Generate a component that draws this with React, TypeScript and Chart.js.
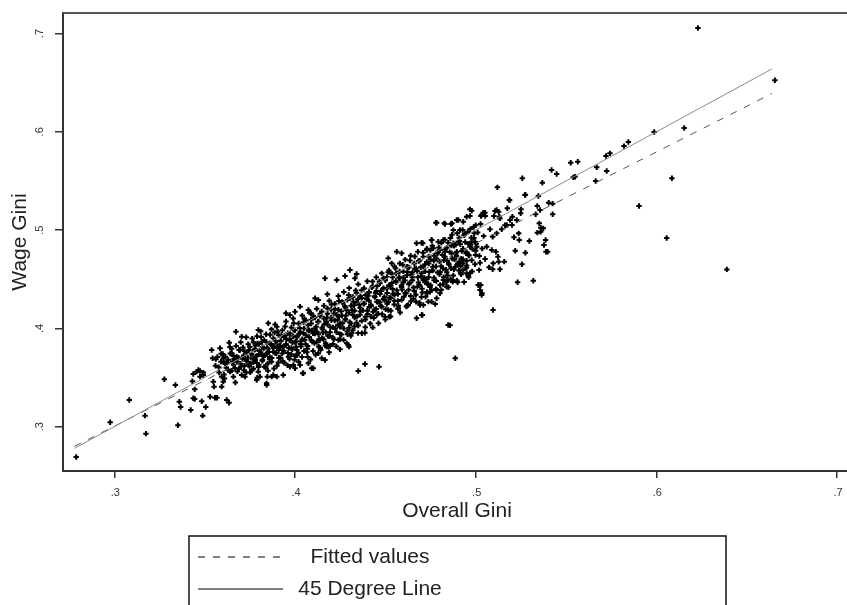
import React, { useEffect, useRef } from "react";
import { Chart, registerables } from "chart.js";
Chart.register(...registerables);

// Axis ticks
const xTicks = [0.3, 0.4, 0.5, 0.6, 0.7];
const yTicks = [0.3, 0.4, 0.5, 0.6, 0.7];
const xTickLabels = [".3", ".4", ".5", ".6", ".7"];
const yTickLabels = [".3", ".4", ".5", ".6", ".7"];

// Lines: [overall, wage]
const fittedLine = [[0.278, 0.280], [0.664, 0.639]];
const diagonalLine = [[0.278, 0.278], [0.664, 0.664]];

// Scatter points [overall gini, wage gini]
const lowTail = [
  [0.2789,0.2692],[0.2977,0.3045],[0.3083,0.3272],[0.317,0.3112],[0.3175,0.2929],[0.3277,0.3482],[0.3338,0.3424],[0.3352,0.3014],
  [0.336,0.3254],[0.3367,0.32],[0.3423,0.317],[0.3445,0.3282],[0.3432,0.3462],[0.3445,0.338],[0.3489,0.3112],[0.3484,0.3258],
  [0.3506,0.32],[0.353,0.3305],[0.3568,0.3295],[0.3622,0.3272],[0.3635,0.3244],[0.3456,0.356],[0.3474,0.3567],[0.3493,0.355],
  [0.3437,0.3536],[0.3539,0.378],[0.3544,0.3696],[0.3465,0.3577],[0.3493,0.3526],[0.3474,0.3509],[0.3548,0.3458],[0.3552,0.3407],
  [0.3594,0.3509],[0.3603,0.3458],[0.3594,0.3407],[0.3437,0.3289],[0.3557,0.3295],[0.3585,0.3798],[0.3603,0.3696],[0.3613,0.3645],
  [0.365,0.3747],[0.3677,0.3712],[0.3696,0.378],[0.364,0.356],[0.3659,0.3509],[0.3705,0.3526],[0.3723,0.3509],[0.3742,0.3628],
  [0.376,0.3577],[0.3797,0.356],[0.3791,0.3498],[0.3806,0.3509],[0.3843,0.3424],[0.3847,0.3509],[0.3871,0.3509],[0.3899,0.3509],
  [0.3636,0.3855],[0.3673,0.3966],[0.3705,0.3916],[0.3797,0.3984],[0.3852,0.4052],[0.3899,0.4017],
];

const core = [
  [0.356,0.362],[0.357,0.371],[0.358,0.355],[0.359,0.366],[0.360,0.374],[0.361,0.349],[0.362,0.360],[0.363,0.368],[0.364,0.381],[0.365,0.357],
  [0.366,0.363],[0.366,0.372],[0.367,0.345],[0.368,0.366],[0.369,0.378],[0.369,0.359],[0.370,0.386],[0.371,0.369],[0.372,0.362],[0.372,0.377],
  [0.373,0.391],[0.373,0.355],[0.374,0.370],[0.375,0.381],[0.375,0.364],[0.376,0.374],[0.377,0.386],[0.377,0.359],[0.378,0.368],[0.378,0.379],
  [0.379,0.392],[0.379,0.372],[0.380,0.363],[0.380,0.384],[0.381,0.376],[0.381,0.397],[0.382,0.368],[0.382,0.381],[0.383,0.388],[0.383,0.361],
  [0.384,0.374],[0.384,0.394],[0.385,0.379],[0.385,0.357],
  [0.386,0.385],[0.386,0.371],[0.387,0.399],[0.387,0.366],[0.388,0.380],[0.388,0.390],[0.389,0.375],[0.389,0.404],[0.390,0.384],[0.390,0.362],
  [0.391,0.393],[0.391,0.378],[0.392,0.387],[0.392,0.370],[0.393,0.398],[0.393,0.381],[0.394,0.365],[0.394,0.391],[0.395,0.384],[0.395,0.407],
  [0.396,0.375],[0.396,0.395],[0.397,0.388],[0.397,0.369],[0.398,0.401],[0.398,0.380],[0.399,0.392],[0.399,0.410],[0.400,0.386],[0.400,0.372],[0.400,0.398],
  [0.401,0.391],[0.401,0.378],[0.402,0.405],[0.402,0.366],[0.403,0.396],[0.403,0.384],[0.404,0.413],[0.404,0.389],[0.405,0.377],[0.405,0.400],
  [0.406,0.393],[0.406,0.408],[0.407,0.382],[0.407,0.371],[0.408,0.398],[0.408,0.416],[0.409,0.388],[0.409,0.405],[0.410,0.395],[0.410,0.377],
  [0.411,0.411],[0.411,0.400],[0.412,0.386],[0.412,0.420],[0.413,0.394],[0.413,0.407],[0.414,0.380],[0.414,0.415],[0.415,0.401],[0.415,0.390],
  [0.416,0.423],[0.416,0.410],[0.417,0.396],[0.417,0.385],[0.418,0.415],[0.418,0.404],[0.419,0.428],[0.419,0.392],[0.420,0.411],[0.420,0.419],
  [0.421,0.401],[0.421,0.384],[0.422,0.425],[0.422,0.408],[0.423,0.414],[0.423,0.396],[0.424,0.433],[0.424,0.419],[0.425,0.405],[0.425,0.389],
  [0.426,0.427],[0.426,0.413],[0.427,0.400],[0.427,0.437],[0.428,0.421],[0.428,0.409],[0.429,0.394],[0.429,0.429],[0.430,0.416],[0.430,0.441],
  [0.431,0.405],[0.431,0.423],[0.432,0.432],[0.432,0.398],[0.433,0.418],[0.433,0.411],[0.434,0.436],[0.434,0.426],[0.435,0.403],[0.435,0.445],
  [0.436,0.421],[0.436,0.414],[0.437,0.431],[0.437,0.395],[0.438,0.440],[0.438,0.425],[0.439,0.409],[0.439,0.434],[0.440,0.418],[0.440,0.448],
  [0.441,0.428],[0.441,0.437],[0.442,0.412],[0.442,0.424],[0.443,0.443],[0.443,0.401],[0.444,0.433],[0.444,0.419],[0.445,0.452],[0.445,0.438],
  [0.446,0.427],[0.446,0.415],[0.447,0.446],[0.447,0.435],[0.448,0.422],[0.448,0.456],[0.449,0.441],[0.449,0.430],[0.450,0.409],[0.450,0.449],
  [0.451,0.436],[0.451,0.425],[0.452,0.459],[0.452,0.444],[0.453,0.431],[0.453,0.418],[0.454,0.452],[0.454,0.440],[0.455,0.463],[0.455,0.428],
  [0.456,0.447],[0.456,0.456],[0.457,0.435],[0.457,0.420],[0.458,0.466],[0.458,0.451],[0.459,0.442],[0.459,0.429],[0.460,0.458],[0.460,0.447],
  [0.461,0.436],[0.461,0.470],[0.462,0.454],[0.462,0.423],[0.463,0.462],[0.463,0.445],[0.464,0.433],[0.464,0.474],[0.465,0.457],[0.465,0.449],
  [0.466,0.466],[0.466,0.438],[0.467,0.427],[0.467,0.461],[0.468,0.452],[0.468,0.478],[0.469,0.444],[0.469,0.469],[0.470,0.456],[0.470,0.432],
  [0.471,0.463],[0.471,0.473],[0.472,0.447],[0.472,0.458],[0.473,0.481],[0.473,0.437],[0.474,0.466],[0.474,0.452],[0.475,0.470],[0.475,0.444],
  [0.476,0.459],[0.476,0.484],[0.477,0.449],[0.477,0.474],[0.478,0.463],[0.478,0.440],[0.479,0.478],[0.480,0.455],[0.480,0.468],[0.481,0.487],
  [0.482,0.461],[0.482,0.445],[0.483,0.473],[0.484,0.457],[0.484,0.482],[0.485,0.466],[0.486,0.450],[0.486,0.492],[0.487,0.471],[0.488,0.460],
  [0.488,0.484],[0.489,0.476],[0.490,0.447],[0.490,0.466],
  [0.491,0.489],[0.492,0.471],[0.492,0.455],[0.493,0.481],[0.494,0.496],[0.495,0.464],[0.496,0.486],[0.496,0.475],[0.497,0.501],[0.498,0.458],
  [0.499,0.492],[0.500,0.479],[0.500,0.505],
];

const coreDense = [
  [0.3605,0.3655],[0.3615,0.3712],[0.3628,0.3581],[0.3642,0.3745],[0.3655,0.3663],[0.3668,0.3598],[0.3674,0.3822],[0.3687,0.3703],
  [0.3699,0.3641],[0.3712,0.3805],[0.3718,0.3574],[0.3726,0.3688],[0.3733,0.3752],[0.3741,0.3839],[0.3748,0.3617],[0.3755,0.3702],
  [0.3763,0.3896],[0.3769,0.3655],[0.3776,0.3781],[0.3784,0.3715],[0.3792,0.3847],[0.3798,0.3607],[0.3806,0.3739],[0.3813,0.3912],
  [0.3819,0.3671],[0.3827,0.3798],[0.3834,0.3726],[0.3842,0.3859],[0.3849,0.3643],[0.3856,0.3761],[0.3862,0.3935],[0.3871,0.3698],
  [0.3878,0.3822],[0.3884,0.3592],[0.3891,0.3874],[0.3897,0.3747],
  [0.3904,0.3969],[0.3911,0.3702],[0.3917,0.3818],[0.3925,0.3931],[0.3932,0.3665],[0.3938,0.3772],[0.3945,0.4018],[0.3952,0.3889],
  [0.3959,0.3624],[0.3966,0.3801],[0.3972,0.3948],[0.3979,0.3736],[0.3986,0.3857],[0.3993,0.4052],[0.3998,0.3682],[0.4006,0.3812],
  [0.4013,0.3926],[0.4019,0.3751],[0.4026,0.4003],[0.4033,0.3868],[0.4039,0.3709],[0.4046,0.3954],[0.4052,0.4097],
  [0.4059,0.3839],[0.4066,0.3756],[0.4073,0.4031],[0.4079,0.3912],[0.4086,0.3683],[0.4093,0.3978],[0.4101,0.4128],[0.4107,0.3852],
  [0.4114,0.3732],[0.4121,0.3966],[0.4127,0.4065],[0.4134,0.3891],[0.4142,0.3781],[0.4148,0.4172],[0.4155,0.3957],[0.4162,0.4043],
  [0.4168,0.3826],[0.4176,0.4109],[0.4183,0.3923],[0.4189,0.3758],[0.4196,0.4011],[0.4202,0.4244],
  [0.4209,0.3907],[0.4216,0.4151],[0.4223,0.3998],[0.4229,0.3817],[0.4236,0.4087],[0.4243,0.4279],[0.4249,0.3942],[0.4256,0.4174],
  [0.4263,0.4052],[0.4269,0.3883],[0.4276,0.4226],[0.4283,0.4131],[0.4289,0.3968],[0.4297,0.4341],[0.4303,0.4063],[0.4309,0.3925],
  [0.4316,0.4187],[0.4323,0.4272],[0.4329,0.4018],[0.4336,0.4385],[0.4342,0.4119],[0.4349,0.3952],
  [0.4356,0.4241],[0.4362,0.4327],[0.4369,0.4076],[0.4376,0.4183],[0.4382,0.4409],[0.4389,0.4012],[0.4396,0.4298],[0.4402,0.4147],
  [0.4409,0.4363],[0.4416,0.4049],[0.4422,0.4227],[0.4429,0.4476],[0.4436,0.4106],[0.4442,0.4318],[0.4449,0.4198],[0.4455,0.4431],
  [0.4462,0.4053],[0.4469,0.4267],[0.4476,0.4382],[0.4482,0.4144],[0.4489,0.4511],[0.4495,0.4289],
  [0.4502,0.4194],[0.4509,0.4406],[0.4516,0.4572],[0.4522,0.4311],[0.4529,0.4122],[0.4536,0.4461],[0.4542,0.4353],[0.4549,0.4243],
  [0.4556,0.4612],[0.4563,0.4389],[0.4569,0.4278],[0.4576,0.4521],[0.4582,0.4162],[0.4589,0.4437],[0.4596,0.4648],[0.4602,0.4321],
  [0.4609,0.4488],[0.4616,0.4222],[0.4622,0.4573],[0.4629,0.4392],[0.4636,0.4691],[0.4642,0.4276],
  [0.4649,0.4521],[0.4656,0.4417],[0.4663,0.4732],[0.4669,0.4342],[0.4676,0.4583],[0.4683,0.4468],[0.4689,0.4261],[0.4696,0.4622],
  [0.4703,0.4403],[0.4709,0.4769],[0.4716,0.4512],[0.4723,0.4321],[0.4729,0.4676],[0.4736,0.4451],[0.4743,0.4573],[0.4749,0.4796],
  [0.4756,0.4389],[0.4763,0.4628],[0.4769,0.4514],[0.4776,0.4247],[0.4783,0.4711],[0.4789,0.4568],
  [0.4796,0.4824],[0.4803,0.4442],[0.4809,0.4633],[0.4816,0.4747],[0.4823,0.4521],[0.4829,0.4902],[0.4836,0.4597],[0.4843,0.4689],
  [0.4849,0.4418],[0.4856,0.4776],[0.4863,0.4612],[0.4869,0.4953],[0.4876,0.4539],[0.4883,0.4702],[0.4889,0.4851],[0.4896,0.4488],
  [0.4903,0.4647],[0.4909,0.4921],[0.4916,0.4563],[0.4923,0.4788],[0.4929,0.4703],[0.4936,0.4472],
  [0.4942,0.4879],[0.4949,0.4617],[0.4956,0.4982],[0.4963,0.4741],[0.4969,0.4561],[0.4976,0.4923],[0.4983,0.4806],[0.4989,0.5031],
  [0.4996,0.4652],[0.5003,0.4862],[0.5011,0.4976],[0.5019,0.4593],[0.5027,0.5062],[0.5036,0.4812],[0.5044,0.4939],[0.5052,0.4706],
];

const coreCenter = [
  [0.3562,0.3687],[0.3578,0.3604],[0.3591,0.3741],[0.3607,0.3532],[0.3624,0.3651],[0.3649,0.3792],[0.3663,0.3688],[0.3681,0.3561],
  [0.3702,0.3611],[0.3716,0.3724],[0.3731,0.3668],[0.3745,0.3779],[0.3752,0.3552],[0.3767,0.3703],[0.3781,0.3826],[0.3789,0.3648],
  [0.3803,0.3771],[0.3817,0.3865],[0.3824,0.3719],[0.3838,0.3604],[0.3845,0.3802],[0.3859,0.3689],[0.3866,0.3841],[0.3880,0.3763],
  [0.3887,0.3957],[0.3901,0.3811],[0.3908,0.3652],[0.3922,0.3873],[0.3929,0.3744],[0.3943,0.3926],[0.3950,0.3831],[0.3964,0.3712],
  [0.3971,0.3894],[0.3985,0.3787],[0.3992,0.3985],[0.4005,0.3866],[0.4012,0.3727],[0.4026,0.3948],[0.4033,0.3815],[0.4047,0.4062],
  [0.4054,0.3884],[0.4068,0.3792],[0.4075,0.3976],[0.4089,0.4089],[0.4096,0.3863],[0.4110,0.3948],[0.4117,0.4016],[0.4131,0.3817],
  [0.4138,0.4127],[0.4152,0.3991],[0.4159,0.3889],[0.4173,0.4068],[0.4180,0.4203],[0.4194,0.3962],[0.4201,0.4083],[0.4215,0.3889],
  [0.4222,0.4197],[0.4236,0.4031],[0.4243,0.4122],[0.4257,0.3937],[0.4264,0.4261],[0.4278,0.4093],[0.4285,0.4184],[0.4299,0.4006],
  [0.4306,0.4312],[0.4320,0.4137],[0.4327,0.4236],[0.4341,0.4058],[0.4348,0.4297],[0.4362,0.4171],[0.4369,0.4389],[0.4383,0.4253],
  [0.4390,0.4119],[0.4404,0.4332],[0.4411,0.4218],[0.4425,0.4417],[0.4432,0.4169],[0.4446,0.4362],[0.4453,0.4271],[0.4467,0.4478],
  [0.4474,0.4229],[0.4488,0.4398],[0.4495,0.4321],[0.4509,0.4523],[0.4516,0.4268],[0.4530,0.4437],[0.4537,0.4554],[0.4551,0.4342],
  [0.4558,0.4483],[0.4572,0.4231],[0.4579,0.4579],[0.4593,0.4396],[0.4600,0.4517],[0.4614,0.4356],[0.4621,0.4628],[0.4635,0.4462],
  [0.4642,0.4549],[0.4656,0.4301],[0.4663,0.4607],[0.4677,0.4423],[0.4684,0.4686],[0.4698,0.4531],[0.4705,0.4366],[0.4719,0.4649],
  [0.4726,0.4498],[0.4740,0.4731],[0.4747,0.4422],[0.4761,0.4589],[0.4768,0.4687],[0.4782,0.4481],[0.4789,0.4762],[0.4803,0.4573],
  [0.4810,0.4392],[0.4824,0.4694],[0.4831,0.4803],[0.4845,0.4538],[0.4852,0.4651],[0.4866,0.4842],[0.4873,0.4473],[0.4887,0.4627],
  [0.4894,0.4737],[0.4908,0.4589],[0.4915,0.4856],[0.4929,0.4662],[0.4936,0.4947],[0.4950,0.4774],[0.4957,0.4538],[0.4971,0.4851],
  [0.4978,0.4693],[0.4992,0.4968],[0.4999,0.4747],
];

const lowEdge = [
  [0.3935,0.3526],[0.3972,0.361],[0.4,0.3594],[0.4028,0.3628],[0.4046,0.3543],[0.4074,0.3645],[0.4101,0.3594],[0.4129,0.3747],
  [0.4148,0.3696],[0.4166,0.3679],[0.4175,0.3814],[0.3788,0.3475],[0.3843,0.3441],[0.388,0.3526],[0.3991,0.3628],[0.4043,0.3543],
  [0.4092,0.3594],[0.4194,0.3821],[0.4249,0.3787],[0.4286,0.3848],[0.4299,0.3814],[0.435,0.3567],[0.4387,0.3638],[0.4465,0.361],
  [0.4387,0.3956],[0.4522,0.4119],[0.4673,0.4103],[0.4705,0.4137],[0.4858,0.4031],[0.4887,0.3696],[0.5096,0.4187],[0.5017,0.4441],
  [0.5035,0.4357],[0.4839,0.4475],[0.4839,0.4424],[0.4802,0.4357],[0.4747,0.4373],[0.4738,0.4272],[0.4692,0.4238],[0.4627,0.4238],
  [0.4572,0.4204],[0.4516,0.4187],[0.4498,0.4119],[0.4452,0.4136],[0.4314,0.395],[0.4249,0.4017],[0.424,0.3882],[0.4295,0.3831],
  [0.4184,0.3814],[0.4138,0.3882],[0.4848,0.4035],[0.471,0.4492],[0.4729,0.4459],[0.4784,0.4391],[0.4821,0.4492],[0.484,0.4492],
  [0.4873,0.4492],[0.4732,0.4357],[0.4784,0.4306],[0.4756,0.4272],[0.471,0.4238],[0.4701,0.4136],[0.5024,0.439],[0.5033,0.434],
  [0.4028,0.4221],
];

const highEdge = [
  [0.4166,0.451],[0.4179,0.4347],[0.4111,0.4306],[0.4129,0.4289],[0.4074,0.4187],[0.4089,0.4154],[0.395,0.4154],[0.3972,0.4136],
  [0.4,0.417],[0.4231,0.4492],[0.4277,0.4533],[0.4304,0.4594],[0.4332,0.451],[0.4341,0.4553],[0.4516,0.4713],[0.4535,0.4662],
  [0.4563,0.478],[0.459,0.4764],[0.4673,0.4866],[0.4701,0.4872],[0.4756,0.49],[0.4784,0.5075],[0.483,0.5062],[0.4863,0.5062],
  [0.4904,0.5103],[0.4968,0.5211],[0.5033,0.5154],[0.5051,0.5177],[0.5116,0.5204],[0.5172,0.5052],[0.5134,0.5119],[0.4793,0.4882],
  [0.4821,0.49],[0.4848,0.4872],[0.4876,0.4866],[0.4904,0.4882],[0.4707,0.4866],[0.4729,0.4797],[0.4765,0.4815],[0.4802,0.4797],
  [0.483,0.478],[0.4867,0.4764],[0.4895,0.478],[0.4876,0.5],[0.4898,0.4967],[0.4928,0.5001],
];

const rightArm = [
  [0.512,0.5435],[0.5369,0.5482],[0.5188,0.5303],[0.5275,0.536],[0.5347,0.5347],[0.5404,0.5279],[0.5426,0.5269],[0.5426,0.5161],
  [0.5341,0.5245],[0.5356,0.5204],[0.5332,0.5161],[0.5251,0.5211],[0.5175,0.5222],[0.5249,0.5171],[0.5352,0.5069],[0.536,0.5024],
  [0.5374,0.5018],[0.5341,0.4974],[0.536,0.4984],[0.5387,0.49],[0.5378,0.4848],[0.5389,0.478],[0.5398,0.478],[0.5297,0.4889],
  [0.5275,0.477],[0.5256,0.4652],[0.5319,0.4485],[0.5232,0.4469],[0.5219,0.479],[0.5241,0.4899],[0.5212,0.4927],[0.5238,0.4967],
  [0.5201,0.5052],[0.5227,0.5103],[0.5203,0.5136],[0.519,0.5103],[0.5162,0.5049],[0.5144,0.5008],[0.5116,0.4967],[0.5094,0.4933],
  [0.5127,0.5187],[0.5107,0.5194],[0.5131,0.5136],[0.5101,0.5143],[0.5079,0.5008],[0.5053,0.5143],[0.5042,0.5177],[0.5029,0.5143],
  [0.5061,0.4831],[0.5089,0.4798],[0.5112,0.478],[0.5123,0.4729],[0.5127,0.4678],[0.5097,0.4662],[0.5074,0.4621],[0.5094,0.4601],
  [0.5134,0.4601],[0.5158,0.4679],[0.502,0.4737],[0.5024,0.4668],[0.5006,0.4831],[0.4998,0.4879],[0.5014,0.4441],[0.5028,0.4441],
  [0.4961,0.452],[0.495,0.456],[0.4931,0.4594],[0.4917,0.4635],[0.4909,0.4676],[0.495,0.4689],[0.4946,0.4764],[0.4968,0.4831],
  [0.4978,0.4882],[0.4968,0.5143],[0.4978,0.5197],[0.495,0.5136],[0.4931,0.5085],[0.4913,0.5001],[0.478,0.5075],[0.4826,0.5069],
  [0.4869,0.5069],[0.4895,0.5103],[0.4756,0.49],
];

const farRight = [
  [0.5258,0.5527],[0.542,0.5611],[0.5448,0.5571],[0.5526,0.5686],[0.5565,0.5696],[0.554,0.5537],[0.555,0.5543],[0.567,0.5639],
  [0.5721,0.5754],[0.5743,0.5781],[0.5725,0.5601],[0.5664,0.55],[0.5821,0.5855],[0.5845,0.5896],[0.5988,0.5998],[0.6154,0.6039],
  [0.6086,0.5527],[0.5904,0.5245],[0.6057,0.4919],[0.639,0.46],[0.623,0.7056],[0.6656,0.6525],[0.5186,0.5306],[0.5273,0.5357],
];

const FONT = '"Liberation Sans", Arial, sans-serif';

const decor = {
  id: "decor",
  afterDraw(chart: any) {
    const { ctx, chartArea: a, scales } = chart;
    const xs = scales.x;
    const ys = scales.y;
    ctx.save();
    // top frame line
    ctx.strokeStyle = "#555";
    ctx.lineWidth = 2;
    ctx.beginPath();
    ctx.moveTo(a.left, a.top);
    ctx.lineTo(chart.width, a.top);
    ctx.stroke();

    // tick labels
    ctx.fillStyle = "#333";
    ctx.font = `11px ${FONT}`;
    ctx.textAlign = "center";
    ctx.textBaseline = "middle";
    xTicks.forEach((v, i) => ctx.fillText(xTickLabels[i], xs.getPixelForValue(v) + 1, a.bottom + 22));
    yTicks.forEach((v, i) => {
      ctx.save();
      ctx.translate(a.left - 23, ys.getPixelForValue(v));
      ctx.rotate(-Math.PI / 2);
      ctx.fillText(yTickLabels[i], 0, 0);
      ctx.restore();
    });

    // axis titles
    ctx.fillStyle = "#222";
    ctx.font = `21px ${FONT}`;
    ctx.fillText("Overall Gini", (a.left + a.right) / 2 + 2, a.bottom + 40);
    ctx.save();
    ctx.translate(20, (a.top + a.bottom) / 2);
    ctx.rotate(-Math.PI / 2);
    ctx.fillText("Wage Gini", 0, 0);
    ctx.restore();

    // legend box
    ctx.strokeStyle = "#111";
    ctx.lineWidth = 1.5;
    ctx.strokeRect(189, 536, 537, 100);
    const items = [chart.data.datasets[1], chart.data.datasets[0]];
    items.forEach((ds: any, i: number) => {
      const yy = 557 + i * 32;
      ctx.save();
      ctx.strokeStyle = "#555";
      ctx.lineWidth = 1.3;
      ctx.setLineDash(ds.borderDash || []);
      ctx.beginPath();
      ctx.moveTo(198, yy);
      ctx.lineTo(283, yy);
      ctx.stroke();
      ctx.restore();
      ctx.fillStyle = "#222";
      ctx.font = `21px ${FONT}`;
      ctx.textAlign = "center";
      ctx.fillText(ds.label, 370, yy);
    });
    ctx.restore();
  },
};

export default function App() {
  const ref = useRef<HTMLCanvasElement>(null);
  useEffect(() => {
    const toPts = (arr: number[][]) => arr.map(([x, y]) => ({ x, y }));
    const scatter = toPts([
      ...lowTail, ...core, ...coreDense, ...coreCenter, ...lowEdge, ...highEdge, ...rightArm, ...farRight,
    ]);
    const axisCommon = {
      type: "linear" as const,
      ticks: { display: false },
      border: { display: true, color: "#333", width: 2 },
    };
    const chart = new Chart(ref.current as HTMLCanvasElement, {
      type: "scatter",
      data: {
        datasets: [
          {
            label: "45 Degree Line",
            data: toPts(diagonalLine),
            showLine: true,
            borderColor: "#8c8c8c",
            borderWidth: 1,
            pointRadius: 0,
          } as any,
          {
            label: "Fitted values",
            data: toPts(fittedLine),
            showLine: true,
            borderColor: "#555",
            borderDash: [7, 8],
            borderWidth: 1,
            pointRadius: 0,
          } as any,
          {
            label: "Wage Gini",
            data: scatter,
            pointStyle: "cross",
            pointRadius: 2.7,
            borderColor: "#000",
            backgroundColor: "#000",
            borderWidth: 2,
          } as any,
        ],
      },
      options: {
        animation: false,
        responsive: false,
        events: [],
        layout: { autoPadding: false, padding: { top: 13, left: 0, right: 0, bottom: 0 } },
        plugins: { legend: { display: false }, tooltip: { enabled: false } },
        scales: {
          x: {
            ...axisCommon,
            min: 0.2716,
            max: 0.7055,
            afterBuildTicks: (s: any) => {
              s.ticks = xTicks.map((v) => ({ value: v }));
            },
            grid: { drawOnChartArea: false, drawTicks: true, tickLength: 7, color: "#333", lineWidth: 1.5 },
            afterFit: (s: any) => {
              s.height = 134;
            },
          },
          y: {
            ...axisCommon,
            min: 0.2549,
            max: 0.7209,
            afterBuildTicks: (s: any) => {
              s.ticks = yTicks.map((v) => ({ value: v }));
            },
            grid: { drawOnChartArea: false, drawTicks: true, tickLength: 8, color: "#333", lineWidth: 1.5 },
            afterFit: (s: any) => {
              s.width = 63;
            },
          },
        },
      } as any,
      plugins: [decor],
    });
    return () => chart.destroy();
  }, []);
  return (
    <div style={{ position: "absolute", left: 0, top: 0, width: 847, height: 605, background: "#fff" }}>
      <canvas ref={ref} width={847} height={605} style={{ display: "block", width: 847, height: 605 }} />
    </div>
  );
}
